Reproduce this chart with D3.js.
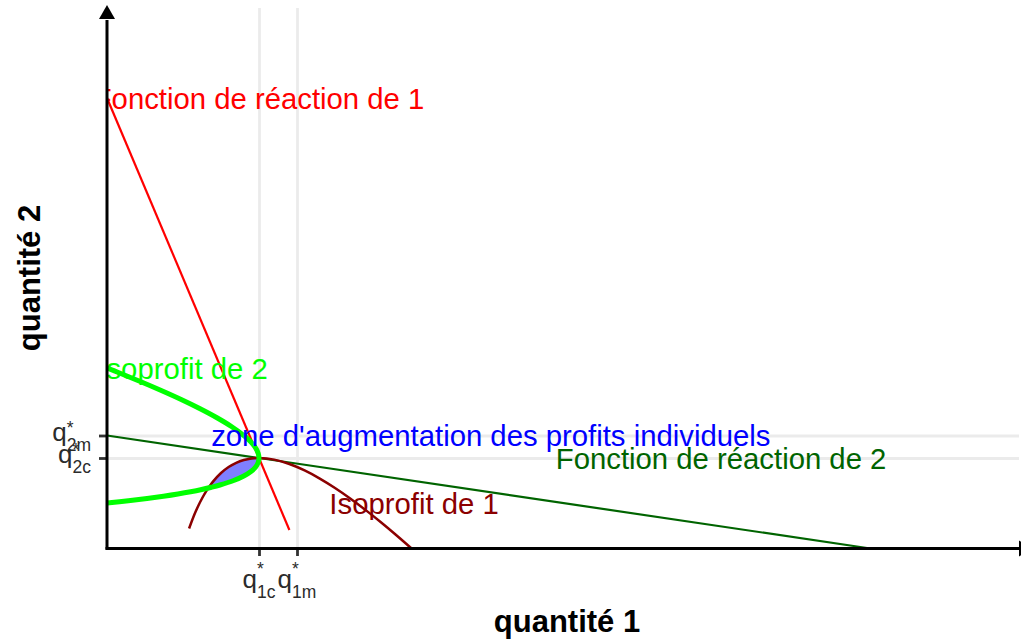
<!DOCTYPE html>
<html>
<head>
<meta charset="utf-8">
<script src="https://cdn.jsdelivr.net/npm/d3@7"></script>
<style>
  body { margin: 0; background: #fff; }
  svg { display: block; font-family: "Liberation Sans", Arial, sans-serif; }
</style>
</head>
<body>
<div class="chart"></div>
<script>
// ---- data ----
const xTicks = [2, 2.5];
const xTickSubs = ["1c", "1m"];
const yTicks = [4, 5];
const yTickSubs = ["2c", "2m"];

// reaction functions (end points)
const reaction1Q1 = [0, 2.4];
const reaction1Q2 = [20, 0.8];
const reaction2Q1 = [0, 10];
const reaction2Q2 = [5, 0];

// isoprofit of firm 1
const iso1Q1 = [1.08, 1.15, 1.2, 1.25, 1.3, 1.35, 1.4, 1.5, 1.6, 1.7, 1.8, 1.9, 2.0, 2.2, 2.4, 2.6, 2.8, 3.0, 3.2, 3.4, 3.6, 3.8, 4.0];
const iso1Q2 = [0.865, 1.487, 1.867, 2.2, 2.492, 2.748, 2.971, 3.333, 3.6, 3.788, 3.911, 3.979, 4.0, 3.927, 3.733, 3.446, 3.086, 2.667, 2.2, 1.694, 1.156, 0.589, 0];

// isoprofit of firm 2
const iso2Q1 = [0, 0.281, 0.527, 0.743, 0.933, 1.1, 1.246, 1.374, 1.486, 1.667, 1.8, 1.894, 1.956, 1.989, 2.0, 1.990, 1.964, 1.922, 1.867, 1.8, 1.637, 1.441, 1.219, 0.976, 0.714, 0.438, 0.149, 0];
const iso2Q2 = [2, 2.1, 2.2, 2.3, 2.4, 2.5, 2.6, 2.7, 2.8, 3.0, 3.2, 3.4, 3.6, 3.8, 4.0, 4.2, 4.4, 4.6, 4.8, 5.0, 5.4, 5.8, 6.2, 6.6, 7.0, 7.4, 7.8, 8.0];

// zone where both profits increase (lens between the isoprofits)
const zoneQ1 = [1.333, 1.35, 1.4, 1.45, 1.5, 1.55, 1.6, 1.7, 1.8, 1.9, 2.0, 1.997, 1.989, 1.976, 1.956, 1.929, 1.894, 1.852, 1.8, 1.739, 1.667, 1.583, 1.486, 1.374];
const zoneQ2 = [2.667, 2.748, 2.971, 3.166, 3.333, 3.477, 3.6, 3.788, 3.911, 3.979, 4.0, 3.9, 3.8, 3.7, 3.6, 3.5, 3.4, 3.3, 3.2, 3.1, 3.0, 2.9, 2.8, 2.7];

// text annotations
const labelTexts = ["Fonction de réaction de 1", "Isoprofit de 2", "zone d'augmentation des profits individuels", "Fonction de réaction de 2", "Isoprofit de 1"];
const labelQ1 = [2, 1, 5.05, 8.08, 4.04];
const labelQ2 = [20, 8, 5, 4, 2];
const labelColors = ["#ff0000", "#00ff00", "#0000ff", "#006400", "#8b0000"];

// ---- chart ----
const width = 1021, height = 643;
const margin = { left: 107, right: 1019, top: 8, bottom: 548 };

const svg = d3.select(".chart").append("svg")
    .attr("width", width)
    .attr("height", height);

// panel clip (texts outside the panel are cut, as in the original)
svg.append("clipPath").attr("id", "panel")
    .append("rect")
    .attr("x", margin.left).attr("y", 0)
    .attr("width", margin.right - margin.left).attr("height", margin.bottom);

const x = d3.scaleLinear().domain([0, 12]).range([margin.left, margin.right]);
const y = d3.scaleLinear().domain([0, 24]).range([margin.bottom, margin.top]);

const zip = (a, b) => a.map((v, i) => [v, b[i]]);

// grid lines
svg.append("g")
    .attr("transform", "translate(0," + margin.bottom + ")")
    .call(d3.axisBottom(x).tickValues(xTicks).tickSize(-(margin.bottom - margin.top)).tickFormat(""))
    .call(g => g.select(".domain").remove())
    .call(g => g.selectAll("line").attr("stroke", "#ebebeb").attr("stroke-width", 2.8));
svg.append("g")
    .attr("transform", "translate(" + margin.left + ",0)")
    .call(d3.axisLeft(y).tickValues(yTicks).tickSize(-(margin.right - margin.left)).tickFormat(""))
    .call(g => g.select(".domain").remove())
    .call(g => g.selectAll("line").attr("stroke", "#ebebeb").attr("stroke-width", 2.8));

const line = d3.line().x(d => x(d[0])).y(d => y(d[1]));
const smooth = d3.line().x(d => x(d[0])).y(d => y(d[1])).curve(d3.curveCatmullRom);

// shaded zone
svg.append("path")
    .attr("d", d3.line().x(d => x(d[0])).y(d => y(d[1])).curve(d3.curveLinearClosed)(zip(zoneQ1, zoneQ2)))
    .attr("fill", "#0000ff")
    .attr("fill-opacity", 0.5);

// reaction functions
svg.append("path")
    .attr("d", line(zip(reaction2Q1, reaction2Q2)))
    .attr("fill", "none").attr("stroke", "#006400").attr("stroke-width", 2.2);
svg.append("path")
    .attr("d", line(zip(reaction1Q1, reaction1Q2)))
    .attr("fill", "none").attr("stroke", "#ff0000").attr("stroke-width", 2.2);

// isoprofits
svg.append("path")
    .attr("d", smooth(zip(iso1Q1, iso1Q2)))
    .attr("fill", "none").attr("stroke", "#8b0000").attr("stroke-width", 2.5);
svg.append("path")
    .attr("d", smooth(zip(iso2Q1, iso2Q2)))
    .attr("fill", "none").attr("stroke", "#00ff00").attr("stroke-width", 5);

// annotations
svg.append("g")
    .attr("clip-path", "url(#panel)")
    .selectAll("text")
    .data(labelTexts)
    .join("text")
    .attr("x", (d, i) => x(labelQ1[i]))
    .attr("y", (d, i) => y(labelQ2[i]) + 10.5)
    .attr("text-anchor", "middle")
    .attr("font-size", 29.3)
    .attr("fill", (d, i) => labelColors[i])
    .text(d => d);

// axis ticks
svg.append("g")
    .attr("transform", "translate(0," + margin.bottom + ")")
    .call(d3.axisBottom(x).tickValues(xTicks).tickSize(8).tickSizeOuter(0).tickFormat(""))
    .call(g => g.select(".domain").remove())
    .call(g => g.selectAll("line").attr("stroke", "#333").attr("stroke-width", 2.8));
svg.append("g")
    .attr("transform", "translate(" + margin.left + ",0)")
    .call(d3.axisLeft(y).tickValues(yTicks).tickSize(8).tickSizeOuter(0).tickFormat(""))
    .call(g => g.select(".domain").remove())
    .call(g => g.selectAll("line").attr("stroke", "#333").attr("stroke-width", 2.8));

// tick labels q^*_{sub}
function qLabel(parent, sub, starDy) {
    const g = parent.append("g").attr("fill", "#2b2b2b");
    const q = g.append("text").attr("font-size", 26).text("q");
    const qw = q.node().getComputedTextLength();
    const s = g.append("text").attr("x", qw).attr("y", 10).attr("font-size", 17.5).text(sub);
    const st = g.append("text").attr("x", qw).attr("y", starDy).attr("font-size", 17.5).text("*");
    const w = qw + Math.max(s.node().getComputedTextLength(), st.node().getComputedTextLength());
    return { g, w };
}
xTicks.forEach((v, i) => {
    const l = qLabel(svg, xTickSubs[i], -13);
    l.g.attr("transform", "translate(" + (x(v) - l.w / 2) + "," + 588 + ")");
});
yTicks.forEach((v, i) => {
    const l = qLabel(svg, yTickSubs[i], -7);
    l.g.attr("transform", "translate(" + (91 - l.w) + "," + (y(v) + 5) + ")");
});

// axis lines with arrows
svg.append("line")
    .attr("x1", margin.left).attr("y1", margin.bottom + 1.5).attr("x2", margin.left).attr("y2", margin.top + 12)
    .attr("stroke", "#000").attr("stroke-width", 3);
svg.append("path")
    .attr("d", "M" + (margin.left - 8) + "," + (margin.top + 11) + "L" + margin.left + "," + (margin.top - 3) + "L" + (margin.left + 8) + "," + (margin.top + 11) + "Z")
    .attr("fill", "#000");
svg.append("line")
    .attr("x1", margin.left - 1.5).attr("y1", margin.bottom + 0.5).attr("x2", margin.right).attr("y2", margin.bottom + 0.5)
    .attr("stroke", "#000").attr("stroke-width", 3);
svg.append("path")
    .attr("d", "M" + margin.right + "," + (margin.bottom - 7.5) + "L" + (margin.right + 14) + "," + (margin.bottom + 0.5) + "L" + margin.right + "," + (margin.bottom + 8.5) + "Z")
    .attr("fill", "#000");

// axis titles
svg.append("text")
    .attr("x", 567).attr("y", 632)
    .attr("text-anchor", "middle")
    .attr("font-size", 31).attr("font-weight", "bold")
    .text("quantité 1");
svg.append("text")
    .attr("transform", "translate(40," + ((margin.top + margin.bottom) / 2) + ") rotate(-90)")
    .attr("text-anchor", "middle")
    .attr("font-size", 31).attr("font-weight", "bold")
    .text("quantité 2");
</script>
</body>
</html>
